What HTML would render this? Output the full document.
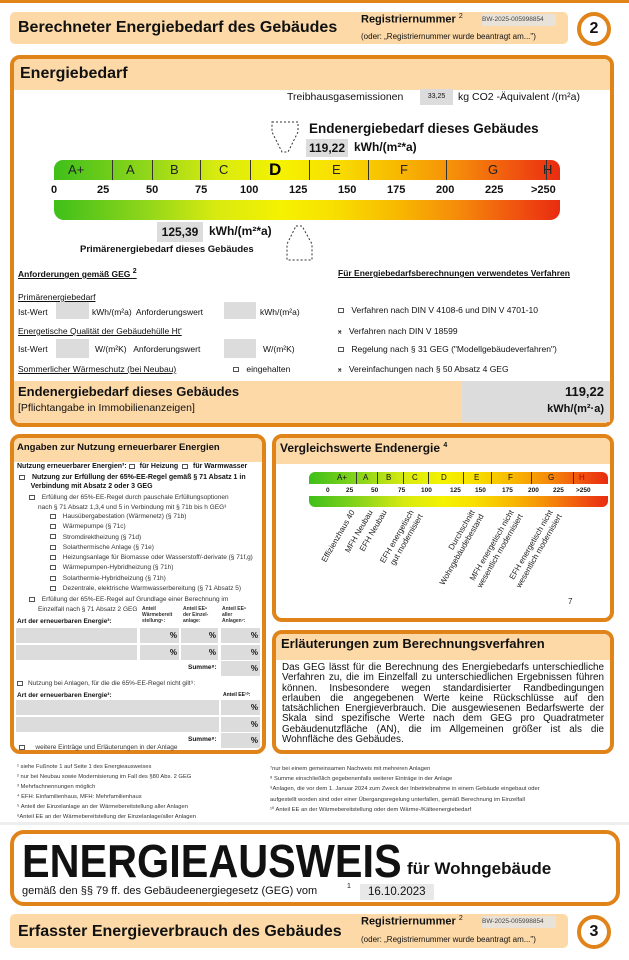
<!DOCTYPE html>
<html><head><meta charset="utf-8">
<style>
*{box-sizing:border-box;margin:0;padding:0}
body{width:629px;height:960px;background:#fff;position:relative;overflow:hidden;font-family:"Liberation Sans",Arial,sans-serif;color:#111}
.a{position:absolute;white-space:nowrap}
.box{position:absolute;border:4px solid #e0841a;border-radius:10px;background:#fff;overflow:hidden}
.peach{background:#fdd9a8}
.hdr{position:absolute;left:0;right:0;top:0;background:#fdd9a8}
.g{background:#dcdcdc}
.circ{position:absolute;width:34px;height:34px;border:4px solid #e0841a;border-radius:50%;font:bold 16px "Liberation Sans",sans-serif;text-align:center;line-height:26px;background:#fff}
.cb{display:inline-block;width:6px;height:5px;border:1px solid #555;margin-right:5px;vertical-align:middle}
.s7{font-size:7px}
.grad{background:linear-gradient(90deg,#3fbf1a 0%,#8fd61a 18%,#d8ea10 32%,#f5f200 45%,#f8e000 55%,#f8b800 68%,#f58a0a 80%,#f05010 92%,#e82c10 100%)}
</style></head><body>
<div class="a" style="left:0;top:0;width:629px;height:3px;background:#e0841a"></div>

<div class="a peach" style="left:10px;top:12px;width:558px;height:32px;border-radius:5px"></div>
<div class="a" style="left:18px;top:19px;font-size:16px;font-weight:bold">Berechneter Energiebedarf des Gebäudes</div>
<div class="a" style="left:361px;top:13px;font-size:11px;font-weight:bold">Registriernummer <sup style="font-size:7px;font-weight:normal">2</sup></div>
<div class="a" style="left:482px;top:14px;width:74px;height:12px;font-size:6.5px;line-height:12px;background:#e9e2d8;color:#444">BW-2025-005998854</div>
<div class="a" style="left:361px;top:32px;font-size:8px">(oder: „Registriernummer wurde beantragt am...")</div>
<div class="circ" style="left:577px;top:12px">2</div>

<div class="box" style="left:10px;top:55px;width:604px;height:372px">
 <div class="hdr" style="height:31px"></div>
 <div class="a" style="left:6px;top:6px;font-size:16px;font-weight:bold">Energiebedarf</div>
 <div class="a" style="left:0;right:0;top:322px;height:46px;background:#fdd9a8"></div>
</div>
<div class="a" style="left:287px;top:91px;font-size:10.5px">Treibhausgasemissionen</div>
<div class="a g" style="left:420px;top:89px;width:33px;height:16px;font-size:7px;line-height:16px;text-align:center">33,25</div>
<div class="a" style="left:458px;top:91px;font-size:10.5px">kg CO2 -Äquivalent /(m²a)</div>

<svg class="a" style="left:0;top:0" width="629" height="270">
 <polygon points="272,122 298,122 298,132 288,152 282,152 272,132" fill="none" stroke="#333" stroke-dasharray="2,2" stroke-width="1"/>
 <polygon points="296,226 302,226 312,244 312,260 287,260 287,244" fill="none" stroke="#333" stroke-dasharray="2,2" stroke-width="1"/>
</svg>
<div class="a" style="left:309px;top:121px;font-size:13.5px;font-weight:bold">Endenergiebedarf dieses Gebäudes</div>
<div class="a g" style="left:306px;top:139px;width:42px;height:18px;font-size:12px;font-weight:bold;line-height:18px;text-align:center">119,22</div>
<div class="a" style="left:354px;top:140px;font-size:12px;font-weight:bold">kWh/(m²*a)</div>

<div class="a grad" style="left:54px;top:160px;width:506px;height:20px;border-radius:9px 9px 0 0"></div>
<div class="a" style="left:54px;top:160px;width:506px;height:20px;font-size:13px;line-height:20px;color:#222">
 <span class="a" style="left:14px">A+</span><span class="a" style="left:72px">A</span><span class="a" style="left:116px">B</span><span class="a" style="left:165px">C</span><span class="a" style="left:215px;font-size:17px;font-weight:bold;color:#000">D</span><span class="a" style="left:278px">E</span><span class="a" style="left:346px">F</span><span class="a" style="left:434px">G</span><span class="a" style="left:489px">H</span>
 <span class="a" style="left:58px;top:0;width:1px;height:20px;background:#333"></span><span class="a" style="left:98px;width:1px;height:20px;background:#333"></span><span class="a" style="left:146px;width:1px;height:20px;background:#333"></span><span class="a" style="left:196px;width:1px;height:20px;background:#333"></span><span class="a" style="left:255px;width:1px;height:20px;background:#333"></span><span class="a" style="left:314px;width:1px;height:20px;background:#333"></span><span class="a" style="left:392px;width:1px;height:20px;background:#333"></span><span class="a" style="left:492px;width:1px;height:20px;background:#333"></span>
</div>
<div class="a" style="left:0;top:184px;width:629px;font-size:11px;font-weight:bold">
 <span class="a" style="left:51px">0</span><span class="a" style="left:97px">25</span><span class="a" style="left:146px">50</span><span class="a" style="left:195px">75</span><span class="a" style="left:240px">100</span><span class="a" style="left:289px">125</span><span class="a" style="left:338px">150</span><span class="a" style="left:387px">175</span><span class="a" style="left:436px">200</span><span class="a" style="left:485px">225</span><span class="a" style="left:531px">>250</span>
</div>
<div class="a grad" style="left:54px;top:200px;width:506px;height:20px;border-radius:0 0 10px 10px"></div>
<div class="a g" style="left:157px;top:222px;width:46px;height:20px;font-size:12px;font-weight:bold;line-height:20px;text-align:center">125,39</div>
<div class="a" style="left:209px;top:224px;font-size:12px;font-weight:bold">kWh/(m²*a)</div>
<div class="a" style="left:80px;top:244px;font-size:9.5px;font-weight:bold">Primärenergiebedarf dieses Gebäudes</div>

<div class="a" style="left:18px;top:268px;font-size:8.5px;font-weight:bold;text-decoration:underline">Anforderungen gemäß GEG <sup style="font-size:7px">2</sup></div>
<div class="a" style="left:18px;top:292px;font-size:8.5px;text-decoration:underline">Primärenergiebedarf</div>
<div class="a" style="left:18px;top:307px;font-size:8.5px">Ist-Wert</div>
<div class="a g" style="left:56px;top:302px;width:33px;height:17px"></div>
<div class="a" style="left:92px;top:307px;font-size:8.5px">kWh/(m²a)&nbsp; Anforderungswert</div>
<div class="a g" style="left:224px;top:302px;width:32px;height:17px"></div>
<div class="a" style="left:260px;top:307px;font-size:8.5px">kWh/(m²a)</div>
<div class="a" style="left:18px;top:326px;font-size:8.5px;text-decoration:underline">Energetische Qualität der Gebäudehülle Ht'</div>
<div class="a" style="left:18px;top:344px;font-size:8.5px">Ist-Wert</div>
<div class="a g" style="left:56px;top:339px;width:33px;height:19px"></div>
<div class="a" style="left:95px;top:344px;font-size:8.5px">W/(m²K)&nbsp;&nbsp; Anforderungswert</div>
<div class="a g" style="left:224px;top:339px;width:32px;height:19px"></div>
<div class="a" style="left:263px;top:344px;font-size:8.5px">W/(m²K)</div>
<div class="a" style="left:18px;top:364px;font-size:8.5px;text-decoration:underline">Sommerlicher Wärmeschutz (bei Neubau)</div>
<div class="a" style="left:233px;top:364px;font-size:8.5px"><span class="cb"></span> eingehalten</div>
<div class="a" style="left:338px;top:268px;font-size:8.5px;font-weight:bold;text-decoration:underline">Für Energiebedarfsberechnungen verwendetes Verfahren</div>
<div class="a" style="left:338px;top:305px;font-size:8.5px"><span class="cb"></span> Verfahren nach DIN V 4108-6 und DIN V 4701-10</div>
<div class="a" style="left:338px;top:326px;font-size:8.5px"><span style="font-size:7px;margin-right:5px">ӿ</span> Verfahren nach DIN V 18599</div>
<div class="a" style="left:338px;top:344px;font-size:8.5px"><span class="cb"></span> Regelung nach § 31 GEG ("Modellgebäudeverfahren")</div>
<div class="a" style="left:338px;top:364px;font-size:8.5px"><span style="font-size:7px;margin-right:5px">ӿ</span> Vereinfachungen nach § 50 Absatz 4 GEG</div>

<div class="a g" style="left:462px;top:381px;width:148px;height:41px"></div>
<div class="a" style="left:18px;top:384px;font-size:13px;font-weight:bold">Endenergiebedarf dieses Gebäudes</div>
<div class="a" style="left:18px;top:402px;font-size:10.5px">[Pflichtangabe in Immobilienanzeigen]</div>
<div class="a" style="left:500px;top:384px;width:104px;text-align:right;font-size:13px;font-weight:bold">119,22</div>
<div class="a" style="left:500px;top:403px;width:104px;text-align:right;font-size:11px;font-weight:bold">kWh/(m²·a)</div>

<div class="box" style="left:10px;top:434px;width:256px;height:320px">
 <div class="hdr" style="height:24px"></div>
</div>
<div class="a" style="left:17px;top:442px;font-size:9.5px;font-weight:bold">Angaben zur Nutzung erneuerbarer Energien</div>
<div class="a s7" style="left:17px;top:463px;font-weight:bold">Nutzung erneuerbarer Energien³: <span class="cb"></span>für Heizung &nbsp;<span class="cb"></span>für Warmwasser</div>
<div class="a s7" style="left:19px;top:473px;font-weight:bold;line-height:9px"><span class="cb"></span> Nutzung zur Erfüllung der 65%-EE-Regel gemäß § 71 Absatz 1 in<br>&nbsp;&nbsp;&nbsp;&nbsp;&nbsp;&nbsp;Verbindung mit Absatz 2 oder 3 GEG</div>
<div class="a" style="left:29px;top:493px;font-size:6.5px;line-height:9.5px;color:#333"><span class="cb"></span> Erfüllung der 65%-EE-Regel durch pauschale Erfüllungsoptionen<br>&nbsp;&nbsp;&nbsp;&nbsp;&nbsp;nach § 71 Absatz 1,3,4 und 5 in Verbindung mit § 71b bis h GEG³</div>
<div class="a" style="left:50px;top:512px;font-size:6.5px;line-height:10.3px;color:#333">
<span class="cb"></span> Hausübergabestation (Wärmenetz) (§ 71b)<br>
<span class="cb"></span> Wärmepumpe (§ 71c)<br>
<span class="cb"></span> Stromdirektheizung (§ 71d)<br>
<span class="cb"></span> Solarthermische Anlage (§ 71e)<br>
<span class="cb"></span> Heizungsanlage für Biomasse oder Wasserstoff/-derivate (§ 71f,g)<br>
<span class="cb"></span> Wärmepumpen-Hybridheizung (§ 71h)<br>
<span class="cb"></span> Solarthermie-Hybridheizung (§ 71h)<br>
<span class="cb"></span> Dezentrale, elektrische Warmwasserbereitung (§ 71 Absatz 5)</div>
<div class="a" style="left:29px;top:595px;font-size:6.5px;line-height:9.5px;color:#333"><span class="cb"></span> Erfüllung der 65%-EE-Regel auf Grundlage einer Berechnung im<br>&nbsp;&nbsp;&nbsp;&nbsp;&nbsp;Einzelfall nach § 71 Absatz 2 GEG</div>
<div class="a" style="left:142px;top:606px;font-size:5px;line-height:6px;font-weight:bold;color:#333">Anteil<br>Wärmebereit<br>stellung⁵:</div>
<div class="a" style="left:183px;top:606px;font-size:5px;line-height:6px;font-weight:bold;color:#333">Anteil EE⁶<br>der Einzel-<br>anlage:</div>
<div class="a" style="left:222px;top:606px;font-size:5px;line-height:6px;font-weight:bold;color:#333">Anteil EE⁶<br>aller<br>Anlagen⁷:</div>
<div class="a s7" style="left:17px;top:618px;font-weight:bold;font-size:6.5px">Art der erneuerbaren Energie³:</div>
<div class="a g" style="left:16px;top:628px;width:121px;height:15px"></div>
<div class="a g" style="left:140px;top:628px;width:39px;height:15px;font-size:8px;font-weight:bold;text-align:right;padding-right:2px;line-height:15px">%</div>
<div class="a g" style="left:181px;top:628px;width:37px;height:15px;font-size:8px;font-weight:bold;text-align:right;padding-right:2px;line-height:15px">%</div>
<div class="a g" style="left:221px;top:628px;width:39px;height:15px;font-size:8px;font-weight:bold;text-align:right;padding-right:2px;line-height:15px">%</div>
<div class="a g" style="left:16px;top:645px;width:121px;height:15px"></div>
<div class="a g" style="left:140px;top:645px;width:39px;height:15px;font-size:8px;font-weight:bold;text-align:right;padding-right:2px;line-height:15px">%</div>
<div class="a g" style="left:181px;top:645px;width:37px;height:15px;font-size:8px;font-weight:bold;text-align:right;padding-right:2px;line-height:15px">%</div>
<div class="a g" style="left:221px;top:645px;width:39px;height:15px;font-size:8px;font-weight:bold;text-align:right;padding-right:2px;line-height:15px">%</div>
<div class="a" style="left:188px;top:664px;font-size:6.5px;font-weight:bold">Summe⁸:</div>
<div class="a g" style="left:221px;top:661px;width:39px;height:15px;font-size:8px;font-weight:bold;text-align:right;padding-right:2px;line-height:15px">%</div>
<div class="a" style="left:17px;top:680px;font-size:6.5px;color:#333"><span class="cb"></span>Nutzung bei Anlagen, für die die 65%-EE-Regel nicht gilt⁹:</div>
<div class="a" style="left:17px;top:692px;font-size:6.5px;font-weight:bold">Art der erneuerbaren Energie³:</div>
<div class="a" style="left:223px;top:692px;font-size:5px;font-weight:bold">Anteil EE¹⁰:</div>
<div class="a g" style="left:16px;top:700px;width:203px;height:15px"></div>
<div class="a g" style="left:221px;top:700px;width:39px;height:15px;font-size:8px;font-weight:bold;text-align:right;padding-right:2px;line-height:15px">%</div>
<div class="a g" style="left:16px;top:717px;width:203px;height:15px"></div>
<div class="a g" style="left:221px;top:717px;width:39px;height:15px;font-size:8px;font-weight:bold;text-align:right;padding-right:2px;line-height:15px">%</div>
<div class="a" style="left:188px;top:736px;font-size:6.5px;font-weight:bold">Summe⁸:</div>
<div class="a g" style="left:221px;top:733px;width:39px;height:15px;font-size:8px;font-weight:bold;text-align:right;padding-right:2px;line-height:15px">%</div>
<div class="a" style="left:19px;top:744px;font-size:6.5px;color:#333"><span class="cb"></span>&nbsp;&nbsp; weitere Einträge und Erläuterungen in der Anlage</div>

<div class="box" style="left:272px;top:434px;width:342px;height:188px">
 <div class="hdr" style="height:26px"></div>
</div>
<div class="a" style="left:280px;top:441px;font-size:12px;font-weight:bold">Vergleichswerte Endenergie <sup style="font-size:7px">4</sup></div>
<div class="a grad" style="left:309px;top:472px;width:299px;height:12px;border-radius:6px 6px 0 0"></div>
<div class="a" style="left:0;top:472px;font-size:8px;line-height:12px">
 <span class="a" style="left:337px">A+</span><span class="a" style="left:363px">A</span><span class="a" style="left:386px">B</span><span class="a" style="left:412px">C</span><span class="a" style="left:441px">D</span><span class="a" style="left:474px">E</span><span class="a" style="left:508px">F</span><span class="a" style="left:548px">G</span><span class="a" style="left:579px;color:#b00">H</span>
 <span class="a" style="left:356px;width:1px;height:12px;background:#333"></span><span class="a" style="left:377px;width:1px;height:12px;background:#333"></span><span class="a" style="left:403px;width:1px;height:12px;background:#333"></span><span class="a" style="left:428px;width:1px;height:12px;background:#333"></span><span class="a" style="left:463px;width:1px;height:12px;background:#333"></span><span class="a" style="left:491px;width:1px;height:12px;background:#333"></span><span class="a" style="left:531px;width:1px;height:12px;background:#333"></span><span class="a" style="left:573px;width:1px;height:12px;background:#333"></span>
</div>
<div class="a" style="left:0;top:487px;font-size:6.5px;font-weight:bold">
 <span class="a" style="left:326px">0</span><span class="a" style="left:346px">25</span><span class="a" style="left:371px">50</span><span class="a" style="left:398px">75</span><span class="a" style="left:421px">100</span><span class="a" style="left:450px">125</span><span class="a" style="left:475px">150</span><span class="a" style="left:502px">175</span><span class="a" style="left:528px">200</span><span class="a" style="left:553px">225</span><span class="a" style="left:576px">>250</span>
</div>
<div class="a grad" style="left:309px;top:496px;width:299px;height:11px;border-radius:0 0 6px 6px"></div>
<svg class="a" style="left:0;top:0" width="629" height="620" font-family="Liberation Sans, sans-serif" font-size="8" fill="#222">
 <text transform="translate(355,512) rotate(-60)" text-anchor="end">Effizienzhaus 40</text>
 <text transform="translate(373,512) rotate(-60)" text-anchor="end">MFH Neubau</text>
 <text transform="translate(387,512) rotate(-60)" text-anchor="end">EFH Neubau</text>
 <text transform="translate(414,512) rotate(-60)" text-anchor="end">EFH energetisch</text>
 <text transform="translate(423,516) rotate(-60)" text-anchor="end">gut modernisiert</text>
 <text transform="translate(475,512) rotate(-60)" text-anchor="end">Durchschnitt</text>
 <text transform="translate(484,516) rotate(-60)" text-anchor="end">Wohngebäudebestand</text>
 <text transform="translate(514,512) rotate(-60)" text-anchor="end">MFH energetisch nicht</text>
 <text transform="translate(523,516) rotate(-60)" text-anchor="end">wesentlich modernisiert</text>
 <text transform="translate(553,512) rotate(-60)" text-anchor="end">EFH energetisch nicht</text>
 <text transform="translate(562,516) rotate(-60)" text-anchor="end">wesentlich modernisiert</text>
 <text x="568" y="604" font-size="8">7</text>
</svg>

<div class="box" style="left:272px;top:630px;width:342px;height:124px">
 <div class="hdr" style="height:26px"></div>
</div>
<div class="a" style="left:281px;top:636px;font-size:13px;font-weight:bold">Erläuterungen zum Berechnungsverfahren</div>
<div class="a" style="left:282px;top:663px;width:322px;white-space:normal;text-align:justify;font-size:9.9px;line-height:10.3px">Das GEG lässt für die Berechnung des Energiebedarfs unterschiedliche Verfahren zu, die im Einzelfall zu unterschiedlichen Ergebnissen führen können. Insbesondere wegen standardisierter Randbedingungen erlauben die angegebenen Werte keine Rückschlüsse auf den tatsächlichen Energieverbrauch. Die ausgewiesenen Bedarfswerte der Skala sind spezifische Werte nach dem GEG pro Quadratmeter Gebäudenutzfläche (AN), die im Allgemeinen größer ist als die Wohnfläche des Gebäudes.</div>

<div class="a" style="left:17px;top:762px;font-size:5.8px;line-height:10px;color:#333">¹ siehe Fußnote 1 auf Seite 1 des Energieausweises<br>² nur bei Neubau sowie Modernisierung im Fall des §80 Abs. 2 GEG<br>³ Mehrfachnennungen möglich<br>⁴ EFH: Einfamilienhaus, MFH: Mehrfamilienhaus<br>⁵ Anteil der Einzelanlage an der Wärmebereitstellung aller Anlagen<br>⁶Anteil EE an der Wärmebereitstellung der Einzelanlage/aller Anlagen</div>
<div class="a" style="left:270px;top:764px;font-size:5.8px;line-height:10.2px;color:#333">⁷nur bei einem gemeinsamen Nachweis mit mehreren Anlagen<br>⁸ Summe einschließlich gegebenenfalls weiterer Einträge in der Anlage<br>⁹Anlagen, die vor dem 1. Januar 2024 zum Zweck der Inbetriebnahme in einem Gebäude eingebaut oder<br>aufgestellt worden sind oder einer Übergangsregelung unterfallen, gemäß Berechnung im Einzelfall<br>¹⁰ Anteil EE an der Wärmebereitstellung oder dem Wärme-/Kälteenergiebedarf</div>
<div class="a" style="left:0;top:822px;width:629px;height:3px;background:#eee"></div>

<div class="box" style="left:10px;top:830px;width:610px;height:76px;border-radius:14px"></div>
<div class="a" style="left:22px;top:836px;font-size:46px;font-weight:bold;line-height:50px;transform:scaleX(0.9);transform-origin:0 0">ENERGIEAUSWEIS</div>
<div class="a" style="left:407px;top:859px;font-size:17px;font-weight:bold">für Wohngebäude</div>
<div class="a" style="left:22px;top:885px;font-size:11px">gemäß den §§ 79 ff. des Gebäudeenergiegesetz (GEG) vom</div>
<div class="a" style="left:347px;top:883px;font-size:7px">1</div>
<div class="a" style="left:360px;top:884px;width:74px;height:16px;background:#e8e8e8;font-size:11.5px;line-height:16px;padding-left:8px">16.10.2023</div>

<div class="a peach" style="left:10px;top:914px;width:558px;height:34px;border-radius:5px"></div>
<div class="a" style="left:18px;top:923px;font-size:16px;font-weight:bold">Erfasster Energieverbrauch des Gebäudes</div>
<div class="a" style="left:361px;top:915px;font-size:11px;font-weight:bold">Registriernummer <sup style="font-size:7px;font-weight:normal">2</sup></div>
<div class="a" style="left:482px;top:916px;width:74px;height:12px;font-size:6.5px;line-height:12px;background:#e9e2d8;color:#444">BW-2025-005998854</div>
<div class="a" style="left:361px;top:935px;font-size:8px">(oder: „Registriernummer wurde beantragt am...")</div>
<div class="circ" style="left:577px;top:915px">3</div>
</body></html>
